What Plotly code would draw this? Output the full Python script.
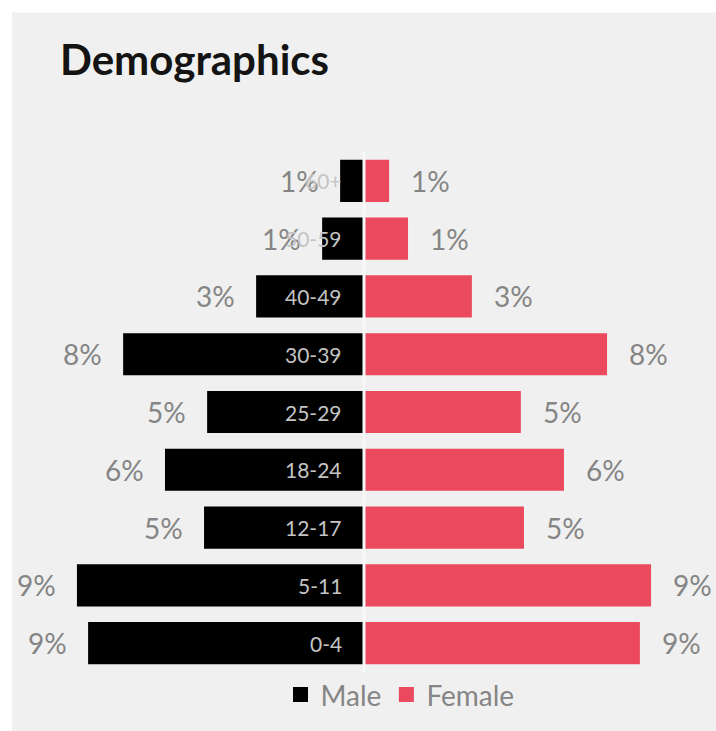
import plotly.graph_objects as go

# Age groups, bottom to top
age_groups = ["0-4", "5-11", "12-17", "18-24", "25-29", "30-39", "40-49", "50-59", "60+"]
male_pct = [8.90, 9.26, 5.16, 6.42, 5.06, 7.77, 3.48, 1.35, 0.77]
female_pct = [8.90, 9.26, 5.16, 6.45, 5.06, 7.84, 3.48, 1.42, 0.81]
series_names = ["Male", "Female"]

W, H = 716, 731
L, R, T, B = 23, 11, 152, 57
PW, PH = W - L - R, H - T - B

MALE_COLOR = "#000000"
FEMALE_COLOR = "#EB4A5E"
LABEL_GREY = "#858585"
PANEL = "#F0F0F0"
FONT = "Lato"

fig = go.Figure()
fig.add_trace(go.Bar(
    y=age_groups, x=[-v for v in male_pct], orientation="h",
    name=series_names[0], marker=dict(color=MALE_COLOR, line=dict(width=0)),
    hoverinfo="skip", showlegend=False,
))
fig.add_trace(go.Bar(
    y=age_groups, x=female_pct, orientation="h",
    name=series_names[1], marker=dict(color=FEMALE_COLOR, line=dict(width=0)),
    hoverinfo="skip", showlegend=False,
))
# square legend keys
for name, color in zip(series_names, [MALE_COLOR, FEMALE_COLOR]):
    fig.add_trace(go.Scatter(
        x=[None], y=[None], mode="markers", name=name,
        marker=dict(symbol="square", size=15, color=color),
    ))

annotations = []
for age, m, f in zip(age_groups, male_pct, female_pct):
    annotations.append(dict(
        x=-m, y=age, xref="x", yref="y", text=f"{m:.0f}%", showarrow=False,
        xanchor="right", yanchor="middle", xshift=-19,
        font=dict(family=FONT, size=28, color=LABEL_GREY),
    ))
    annotations.append(dict(
        x=f, y=age, xref="x", yref="y", text=f"{f:.0f}%", showarrow=False,
        xanchor="left", yanchor="middle", xshift=20,
        font=dict(family=FONT, size=28, color=LABEL_GREY),
    ))
    annotations.append(dict(
        x=0, y=age, xref="x", yref="y", text=age, showarrow=False,
        xanchor="right", yanchor="middle", xshift=-20,
        font=dict(family=FONT, size=21, color="#C4C4C4"),
    ))

shapes = [
    # thin white border along the top and left edges of the panel
    dict(type="rect", xref="paper", yref="paper", layer="below",
         x0=-L / PW - 0.05, x1=(W - L) / PW + 0.05,
         y0=1 + (T - 12) / PH, y1=1 + T / PH + 0.05,
         fillcolor="#FFFFFF", line=dict(width=0)),
    dict(type="rect", xref="paper", yref="paper", layer="below",
         x0=-L / PW - 0.05, x1=(12 - L) / PW,
         y0=-B / PH - 0.05, y1=1 + T / PH + 0.05,
         fillcolor="#FFFFFF", line=dict(width=0)),
    # centre divider
    dict(type="line", xref="x", yref="paper", x0=0, x1=0, y0=0.0, y1=1.0,
         line=dict(color="#F8F8F8", width=3)),
]

fig.update_layout(
    width=W, height=H,
    margin=dict(l=L, r=R, t=T, b=B),
    paper_bgcolor=PANEL,
    plot_bgcolor=PANEL,
    barmode="relative",
    bargap=0.27,
    title=dict(
        text="<b>Demographics</b>", xref="container", yref="container",
        x=60 / W, y=1 - 60 / H, xanchor="left", yanchor="middle",
        font=dict(family=FONT, size=42, color="#141414"),
    ),
    xaxis=dict(range=[-11, 11], visible=False, fixedrange=True),
    yaxis=dict(visible=False, fixedrange=True, categoryorder="array",
               categoryarray=age_groups),
    showlegend=True,
    legend=dict(
        orientation="h", x=(400 - L) / PW, xanchor="center",
        y=-(697 - (H - B)) / PH, yanchor="middle",
        font=dict(family=FONT, size=28, color=LABEL_GREY),
        bgcolor="rgba(0,0,0,0)", itemwidth=30, traceorder="normal",
    ),
    annotations=annotations,
    shapes=shapes,
)

fig.write_html("out.html")
